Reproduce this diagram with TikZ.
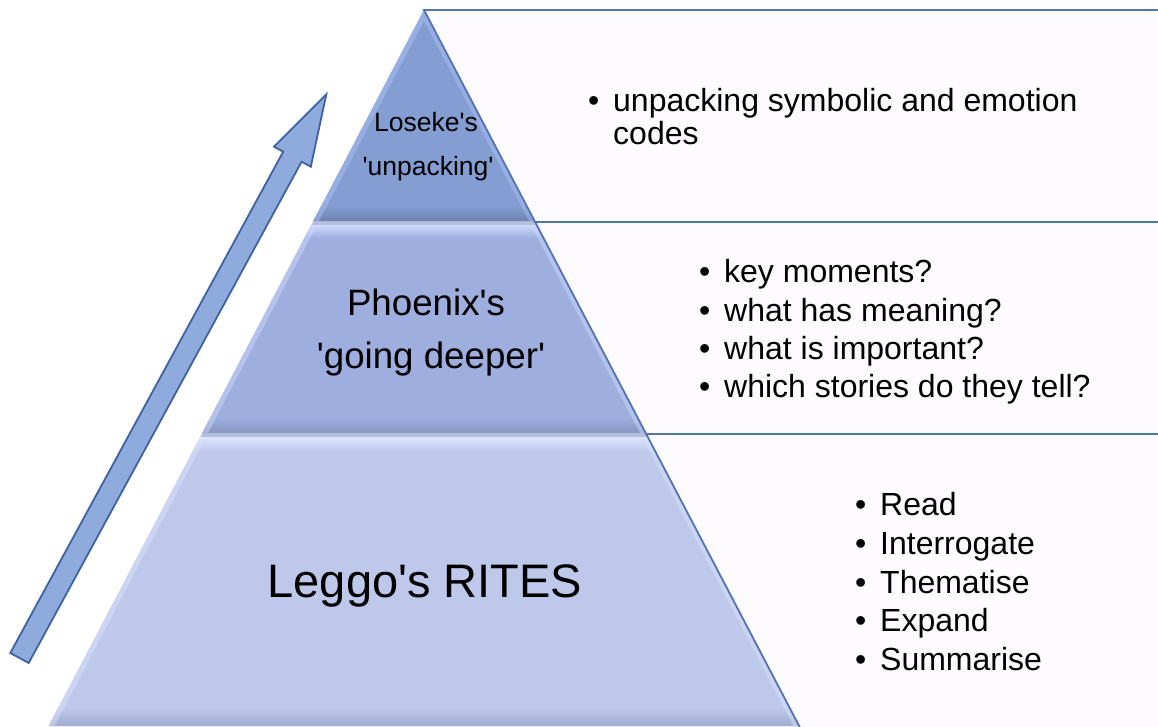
\documentclass[tikz,border=0pt]{standalone}
\usepackage{fontspec}
\setmainfont{Liberation Sans}[Ligatures=TeXOff]
\definecolor{boxline}{HTML}{5373B3}
\definecolor{boxfill}{HTML}{FDFBFD}
\definecolor{tierA}{HTML}{849DD3}
\definecolor{tierAlight}{HTML}{AEC4F6}
\definecolor{tierAdark}{HTML}{6F83B1}
\definecolor{tierB}{HTML}{9DAEDF}
\definecolor{tierBlight}{HTML}{D0DCFC}
\definecolor{tierBdark}{HTML}{8696C0}
\definecolor{tierC}{HTML}{BEC8EA}
\definecolor{tierClight}{HTML}{DCE4FD}
\definecolor{tierCdark}{HTML}{A2ACCE}
\definecolor{gapcol}{HTML}{B4BEDF}
\definecolor{arrowfill}{HTML}{8FAADC}
\definecolor{arrowline}{HTML}{3E62A2}
\newcommand{\blt}{\makebox[25pt][l]{\textbullet}}
\tikzset{
  boxedge/.style={draw=boxline, line width=1.8pt},
  sideglow/.style={line width=10pt, opacity=.45},
  tierlabel/.style={inner sep=0pt, anchor=base},
  item/.style={inner sep=0pt, anchor=base west, font=\fontsize{32}{38}\selectfont},
}
\begin{document}
\begin{tikzpicture}[x=1pt, y=-1pt]
\clip (0,0) rectangle (1158,726);
\fill[white] (0,0) rectangle (1158,726);

% corner points of the pyramid and its three tiers
\coordinate (apex) at (424,10);
\coordinate (a-bl) at (313.4,221);  \coordinate (a-br) at (534.6,221);
\coordinate (b-tl) at (311.3,225);  \coordinate (b-tr) at (536.7,225);
\coordinate (b-bl) at (202.3,433);  \coordinate (b-br) at (645.7,433);
\coordinate (c-tl) at (200.3,437);  \coordinate (c-tr) at (647.7,437);
\coordinate (c-bl) at (48.8,726);   \coordinate (c-br) at (799.2,726);

% corners of the text panels
\coordinate (p1) at (535.1,222);
\coordinate (p2) at (646.2,434);
\coordinate (p3) at (806.5,740);
\coordinate (e0) at (1175,10);
\coordinate (e1) at (1175,222);
\coordinate (e2) at (1175,434);
\coordinate (e3) at (1175,740);

% text panels behind the pyramid
\fill[boxfill] (apex) -- (e0) -- (e3) -- (p3) -- cycle;

% pyramid: seams between the tiers
\fill[gapcol] (apex) -- (c-br) -- (c-bl) -- cycle;

% top tier
\begin{scope}
  \clip (apex) -- (a-br) -- (a-bl) -- cycle;
  \fill[tierA] (300,0) rectangle (560,221);
  \shade[top color=tierA, bottom color=tierAdark] (300,206) rectangle (560,221);
  \draw[tierAlight, sideglow] (a-bl) -- (apex) -- (a-br);
\end{scope}

% middle tier
\begin{scope}
  \clip (b-tl) -- (b-tr) -- (b-br) -- (b-bl) -- cycle;
  \fill[tierB] (190,225) rectangle (660,433);
  \shade[top color=tierBlight, bottom color=tierB] (190,225) rectangle (660,238);
  \shade[top color=tierB, bottom color=tierBdark] (190,418) rectangle (660,433);
  \draw[tierBlight, sideglow] (b-tl) -- (b-bl);
  \draw[tierBlight, sideglow] (b-tr) -- (b-br);
\end{scope}

% bottom tier
\begin{scope}
  \clip (c-tl) -- (c-tr) -- (c-br) -- (c-bl) -- cycle;
  \fill[tierC] (40,437) rectangle (810,726);
  \shade[top color=tierClight, bottom color=tierC] (40,437) rectangle (810,452);
  \shade[top color=tierC, bottom color=tierCdark] (40,708) rectangle (810,726);
  \draw[tierClight, sideglow] (c-tl) -- (c-bl);
  \draw[tierClight, sideglow] (c-tr) -- (c-br);
\end{scope}

% panel outlines
\draw[boxedge] (e0) -- (apex) -- (p1) -- (e1);
\draw[boxedge] (p1) -- (p2) -- (e2);
\draw[boxedge] (p2) -- (p3);

% rising block arrow
\coordinate (tail-l) at (10.3,653);
\coordinate (tail-r) at (28.7,663);
\coordinate (neck-r) at (301.6,161.7);
\coordinate (barb-r) at (310.8,166.7);
\coordinate (tip)    at (326.3,94.4);
\coordinate (barb-l) at (274,146.7);
\coordinate (neck-l) at (283.2,151.7);
\draw[fill=arrowfill, draw=arrowline, line width=1.8pt, line join=miter]
  (tail-l) -- (tail-r) -- (neck-r) -- (barb-r) -- (tip) -- (barb-l) -- (neck-l) -- cycle;

% tier labels
\node[tierlabel, font=\fontsize{26.5}{30}\selectfont] (lose1) at (426,131) {Loseke's};
\node[tierlabel, font=\fontsize{26.5}{30}\selectfont] (lose2) at (428,175) {'unpacking'};
\node[tierlabel, font=\fontsize{36.7}{40}\selectfont] (phx1) at (426,315) {Phoenix's};
\node[tierlabel, font=\fontsize{36.7}{40}\selectfont] (phx2) at (431,368) {'going deeper'};
\node[tierlabel, font=\fontsize{47}{50}\selectfont] (leggo) at (425,597) {Leggo's RITES};

% panel texts
\node[item] (u1) at (588,111) {\blt unpacking symbolic and emotion};
\node[item] (u2) at (613,144) {codes};

\node[item] (m1) at (699,282) {\blt key moments?};
\node[item] (m2) at (699,321) {\blt what has meaning?};
\node[item] (m3) at (699,359) {\blt what is important?};
\node[item] (m4) at (699,397) {\blt which stories do they tell?};

\node[item] (r1) at (855,515) {\blt Read};
\node[item] (r2) at (855,554) {\blt Interrogate};
\node[item] (r3) at (855,593) {\blt Thematise};
\node[item] (r4) at (855,631) {\blt Expand};
\node[item] (r5) at (855,670) {\blt Summarise};
\end{tikzpicture}
\end{document}
